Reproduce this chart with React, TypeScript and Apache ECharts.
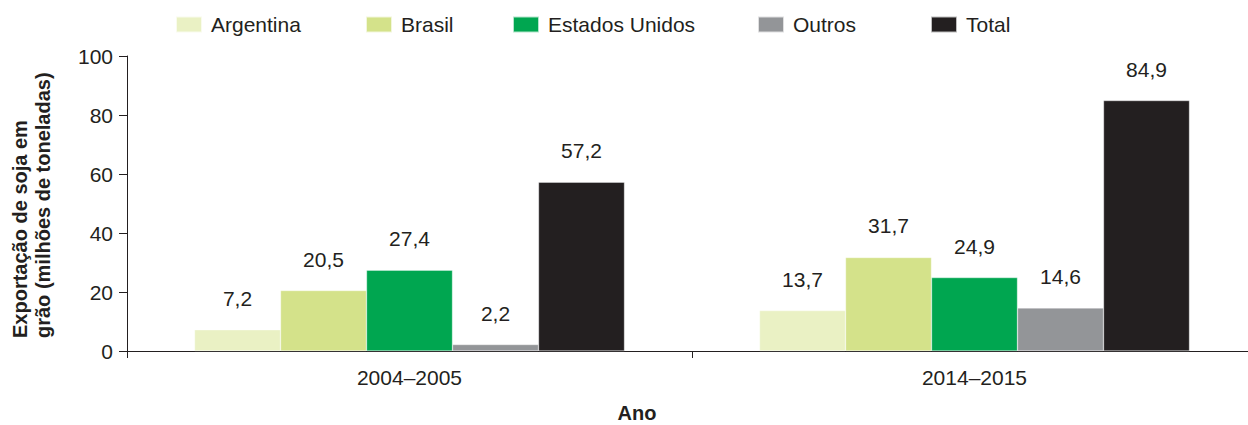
import React, { useEffect, useRef } from "react";
import * as echarts from "echarts";

const categories = ["2004–2005", "2014–2015"];
const seriesNames = ["Argentina", "Brasil", "Estados Unidos", "Outros", "Total"];
const argentina = [7.2, 13.7];
const brasil = [20.5, 31.7];
const estadosUnidos = [27.4, 24.9];
const outros = [2.2, 14.6];
const total = [57.2, 84.9];
const seriesValues = [argentina, brasil, estadosUnidos, outros, total];
const colors = ["#eaf1c4", "#d4e28a", "#00a650", "#939598", "#231f20"];
const legendLeft = [175, 365, 512, 757, 930];
const yTicks = { min: 0, max: 100, interval: 20 };

const FONT = "'Liberation Sans', Arial, sans-serif";
const INK = "#231f20";
const FS = 21;

export default function App() {
  const ref = useRef<HTMLDivElement>(null);
  useEffect(() => {
    if (!ref.current) return;
    const chart = echarts.init(ref.current, null, { renderer: "svg" });
    chart.setOption({
      animation: false,
      textStyle: { fontFamily: FONT },
      legend: seriesNames.map((n, i) => ({
        data: [n],
        left: legendLeft[i],
        top: 14,
        padding: 0,
        itemWidth: 26,
        itemHeight: 16,
        icon: "rect",
        selectedMode: false,
        textStyle: { fontSize: FS, color: INK, fontFamily: FONT, padding: [0, 0, 0, 4] },
      })),
      grid: { left: 127, top: 56, height: 295, right: 1, containLabel: false },
      xAxis: {
        type: "category",
        data: categories,
        axisLine: { lineStyle: { color: INK, width: 1 } },
        axisTick: { show: true, length: 7, lineStyle: { color: INK } },
        axisLabel: { fontSize: FS, color: INK, margin: 16, fontFamily: FONT },
      },
      yAxis: {
        type: "value",
        min: yTicks.min,
        max: yTicks.max,
        interval: yTicks.interval,
        splitLine: { show: false },
        axisLine: { show: true, lineStyle: { color: INK, width: 1 } },
        axisTick: { show: true, length: 8, lineStyle: { color: INK } },
        axisLabel: { fontSize: FS, color: INK, margin: 14, fontFamily: FONT },
      },
      graphic: [
        {
          type: "text",
          x: 31,
          y: 338,
          rotation: Math.PI / 2,
          style: {
            text: "Exportação de soja em\ngrão (milhões de toneladas)",
            fontSize: 20,
            fontWeight: "bold",
            fontFamily: FONT,
            fill: INK,
            align: "left",
            verticalAlign: "middle",
            lineHeight: 23,
          },
        },
        {
          type: "text",
          x: 637,
          y: 413,
          style: {
            text: "Ano",
            fontSize: 20,
            fontWeight: "bold",
            fontFamily: FONT,
            fill: INK,
            align: "center",
            verticalAlign: "middle",
          },
        },
      ],
      series: seriesNames.map((n, i) => ({
        name: n,
        type: "bar",
        data: seriesValues[i],
        barWidth: 86,
        barGap: "0%",
        itemStyle: { color: colors[i], borderColor: "rgba(255,255,255,0.7)", borderWidth: 0.5 },
        label: {
          show: true,
          position: "top",
          distance: 21,
          fontSize: FS,
          color: INK,
          fontFamily: FONT,
          formatter: (p: any) => p.value.toFixed(1).replace(".", ","),
        },
      })),
    });
    return () => chart.dispose();
  }, []);
  return (
    <div style={{ position: "absolute", left: 0, top: 0, width: 1248, height: 425, overflow: "hidden" }}>
      <div ref={ref} style={{ width: 1258, height: 425 }} />
    </div>
  );
}
